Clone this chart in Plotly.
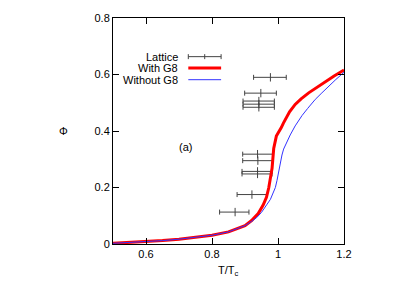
import plotly.graph_objects as go

# Lattice data
lat_x = [0.977, 0.948, 0.942, 0.942, 0.942, 0.938, 0.939, 0.938, 0.938, 0.921, 0.870]
lat_y = [0.590, 0.534, 0.506, 0.495, 0.484, 0.318, 0.295, 0.257, 0.248, 0.175, 0.113]
lat_lo = [0.051, 0.049, 0.048, 0.048, 0.048, 0.045, 0.046, 0.047, 0.047, 0.045, 0.047]
lat_hi = [0.048, 0.047, 0.047, 0.047, 0.047, 0.047, 0.046, 0.044, 0.044, 0.047, 0.042]

# With G8 curve
g8_x = [0.5, 0.55, 0.6, 0.65, 0.7, 0.75, 0.8, 0.85, 0.88, 0.9, 0.92, 0.94, 0.955, 0.965,
        0.972, 0.978, 0.982, 0.987, 0.992, 0.995, 0.999, 1.004, 1.01, 1.016, 1.022, 1.035,
        1.052, 1.07, 1.093, 1.12, 1.143, 1.17, 1.2]
g8_y = [0.0025, 0.005, 0.008, 0.012, 0.017, 0.023, 0.031, 0.043, 0.055, 0.065, 0.083, 0.108,
        0.138, 0.165, 0.199, 0.235, 0.268, 0.338, 0.372, 0.382, 0.39, 0.399, 0.412, 0.427,
        0.441, 0.468, 0.494, 0.514, 0.535, 0.556, 0.575, 0.595, 0.616]

# Without G8 curve
nog8_x = [0.5, 0.55, 0.6, 0.65, 0.7, 0.75, 0.8, 0.85, 0.88, 0.9, 0.92, 0.935, 0.95, 0.96,
          0.967, 0.977, 0.987, 0.992, 0.997, 1.002, 1.007, 1.012, 1.017, 1.027, 1.037, 1.052,
          1.073, 1.09, 1.113, 1.133, 1.153, 1.175, 1.2]
nog8_y = [0.0025, 0.005, 0.008, 0.012, 0.017, 0.023, 0.031, 0.043, 0.055, 0.065, 0.08, 0.093,
          0.112, 0.127, 0.141, 0.158, 0.182, 0.2, 0.225, 0.257, 0.288, 0.315, 0.336, 0.364,
          0.386, 0.418, 0.455, 0.48, 0.512, 0.535, 0.558, 0.582, 0.608]

x_ticks = [0.6, 0.8, 1, 1.2]
x_tick_text = ["0.6", "0.8", "1", "1.2"]
y_ticks = [0, 0.2, 0.4, 0.6, 0.8]
y_tick_text = ["0", "0.2", "0.4", "0.6", "0.8"]

legend_labels = ["Lattice", "With G8", "Without G8"]

GRAY = "#444444"
RED = "#ff0000"
BLUE = "#3333ff"
FONT = "Liberation Sans"

fig = go.Figure()
fig.add_trace(go.Scatter(x=lat_x, y=lat_y, mode="markers",
                         marker=dict(symbol="line-ns", size=6, line=dict(color=GRAY, width=1), color=GRAY),
                         error_x=dict(type="data", symmetric=False, array=lat_hi, arrayminus=lat_lo,
                                      color=GRAY, thickness=1, width=2.5),
                         showlegend=False))
fig.add_trace(go.Scatter(x=g8_x, y=g8_y, mode="lines", line=dict(color=RED, width=3),
                         showlegend=False))
fig.add_trace(go.Scatter(x=nog8_x, y=nog8_y, mode="lines", line=dict(color=BLUE, width=1),
                         showlegend=False))

axis_common = dict(showline=True, linecolor="black", linewidth=1, mirror="ticks",
                   ticks="inside", ticklen=6, tickcolor="black", showgrid=False, zeroline=False,
                   tickfont=dict(family=FONT, size=11, color="black"))

fig.update_xaxes(range=[0.5, 1.2], tickvals=x_ticks, ticktext=x_tick_text, **axis_common)
fig.update_yaxes(range=[0, 0.8], tickvals=y_ticks, ticktext=y_tick_text, **axis_common)

# Legend (manual, gnuplot style)
leg_y = [0.829, 0.779, 0.727]
annotations = []
for lab, yy in zip(legend_labels, leg_y):
    annotations.append(dict(x=0.291, y=yy, xref="paper", yref="paper", text=lab, showarrow=False,
                            xanchor="right", yanchor="middle", font=dict(family=FONT, size=11, color="black")))
shapes = [
    dict(type="line", xref="paper", yref="paper", x0=0.326, x1=0.468, y0=leg_y[0], y1=leg_y[0],
         line=dict(color=GRAY, width=1)),
    dict(type="line", xref="paper", yref="paper", x0=0.326, x1=0.326, y0=leg_y[0] - 0.011, y1=leg_y[0] + 0.011,
         line=dict(color=GRAY, width=1)),
    dict(type="line", xref="paper", yref="paper", x0=0.468, x1=0.468, y0=leg_y[0] - 0.011, y1=leg_y[0] + 0.011,
         line=dict(color=GRAY, width=1)),
    dict(type="line", xref="paper", yref="paper", x0=0.397, x1=0.397, y0=leg_y[0] - 0.011, y1=leg_y[0] + 0.011,
         line=dict(color=GRAY, width=1)),
    dict(type="line", xref="paper", yref="paper", x0=0.326, x1=0.468, y0=leg_y[1], y1=leg_y[1],
         line=dict(color=RED, width=3)),
    dict(type="line", xref="paper", yref="paper", x0=0.326, x1=0.468, y0=leg_y[2], y1=leg_y[2],
         line=dict(color=BLUE, width=1)),
]

annotations.append(dict(x=0.719, y=0.344, xref="x", yref="y", text="(a)", showarrow=False,
                        font=dict(family=FONT, size=11, color="black")))
# Axis titles
annotations.append(dict(x=-0.215, y=0.5, xref="paper", yref="paper", text="Φ", showarrow=False,
                        xanchor="center", yanchor="middle", font=dict(family=FONT, size=11, color="black")))
annotations.append(dict(x=0.5, y=-0.121, xref="paper", yref="paper", text="T/T<sub>c</sub>", showarrow=False,
                        xanchor="center", yanchor="middle", font=dict(family=FONT, size=11, color="black")))

fig.update_layout(width=415, height=291, margin=dict(l=113, r=71, t=14, b=47),
                  paper_bgcolor="white", plot_bgcolor="white",
                  annotations=annotations, shapes=shapes, showlegend=False)

fig.write_html("out.html", config={"displayModeBar": False},
               post_script="document.body.style.margin='0';document.body.style.overflow='hidden';")
